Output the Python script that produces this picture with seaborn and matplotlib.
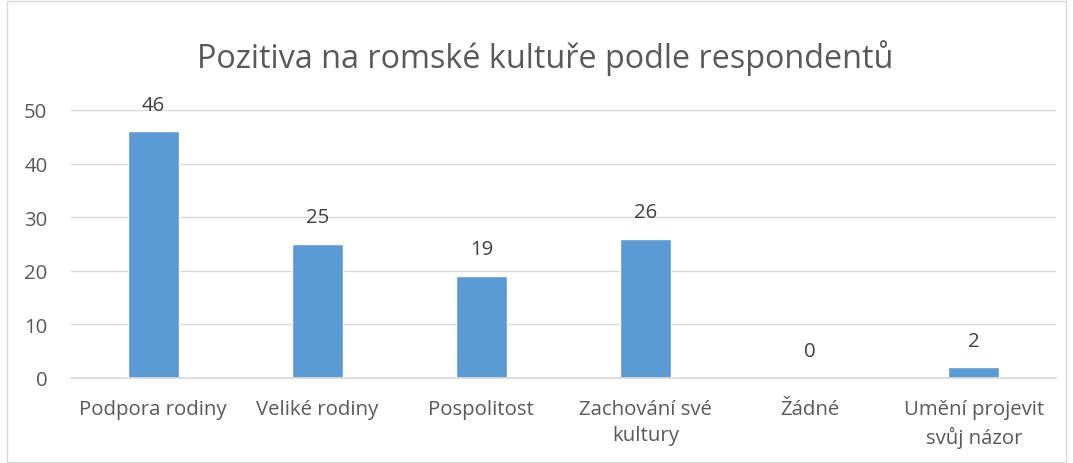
import matplotlib
matplotlib.use("Agg")
import matplotlib.pyplot as plt
import seaborn as sns
import pandas as pd
from matplotlib.patches import Rectangle

categories = ["Podpora rodiny", "Veliké rodiny", "Pospolitost", "Zachování své\nkultury", "Žádné", "Umění projevit\nsvůj názor"]
values = [46, 25, 19, 26, 0, 2]
yticks = [0, 10, 20, 30, 40, 50]
title = "Pozitiva na romské kultuře podle respondentů"

sns.set_theme(style="white")
plt.rcParams['font.family'] = ['Open Sans', 'DejaVu Sans']

df = pd.DataFrame({"cat": categories, "val": values})

fig = plt.figure(figsize=(10.73, 4.64), dpi=100)
ax = fig.add_axes([71/1073, 85/464, (1056-71)/1073, (379-111)/464])
fig.patches.append(Rectangle((7/1073, 0.002), (1066-7)/1073, 0.994, transform=fig.transFigure,
                             fill=False, edgecolor="#D9D9D9", linewidth=1))

sns.barplot(data=df, x="cat", y="val", color="#5B9BD5", width=0.31, ax=ax, saturation=1)
ax.set_xlim(-0.5, 5.5)
ax.set_ylim(0, 50)
ax.set_yticks(yticks)
ax.yaxis.grid(True, color="#D9D9D9", linewidth=1)
ax.set_axisbelow(True)
for s in ["top", "right", "left"]:
    ax.spines[s].set_visible(False)
ax.spines["bottom"].set_color("#D9D9D9")
ax.spines["bottom"].set_linewidth(1.2)
ax.set_xlabel("")
ax.set_ylabel("")
ax.tick_params(axis="both", length=0, labelsize=14.7, colors="#595959")
ax.tick_params(axis="y", pad=17)
ax.tick_params(axis="x", pad=15)
for lbl in ax.get_xticklabels():
    lbl.set_linespacing(1.4)

for i, v in enumerate(values):
    ax.annotate(str(v), (i, v), xytext=(0, 12), textcoords="offset points",
                ha="center", va="bottom", fontsize=14.7, color="#404040")

fig.text(545/1073, 1 - 58/464, title, ha="center", va="center", fontsize=23.3, color="#595959")

fig.savefig("out.png", dpi=100)
